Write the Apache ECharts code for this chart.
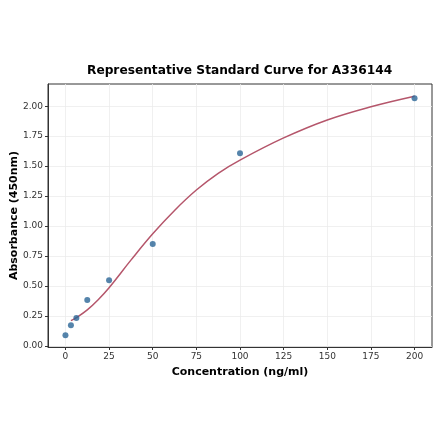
<!DOCTYPE html>
<html>
<head>
<meta charset="utf-8">
<script src="https://cdn.jsdelivr.net/npm/echarts@6/dist/echarts.min.js"></script>
<style>
html, body { margin: 0; padding: 0; background: #fff; }
#tu1 { width: 440px; height: 441px; }
</style>
</head>
<body>
<div id="tu1"></div>
<script>
// measured standards
var concX = [0, 3.125, 6.25, 12.5, 25, 50, 100, 200];
var absY = [0.089, 0.172, 0.232, 0.382, 0.548, 0.85, 1.607, 2.067];

// fitted curve
var fitX = [3.125, 6.25, 12.5, 18.75, 25, 37.5, 50, 62.5, 75, 87.5, 100, 125, 150, 175, 200];
var fitY = [0.21, 0.235, 0.30, 0.385, 0.485, 0.715, 0.935, 1.13, 1.30, 1.44, 1.55, 1.735, 1.885, 1.995, 2.083];

var xTicks = [0, 25, 50, 75, 100, 125, 150, 175, 200];
var yTicks = [0, 0.25, 0.5, 0.75, 1, 1.25, 1.5, 1.75, 2];

var myChart1 = echarts.init(document.getElementById('tu1'));

var font = 'DejaVu Sans';

var option1 = {
    animation: false,
    title: {
        text: 'Representative Standard Curve for A336144',
        left: 82,
        top: 60,
        textStyle: {
            fontFamily: font,
            fontSize: 12.2,
            fontWeight: 'bold',
            color: '#000'
        }
    },
    grid: {
        left: 48,
        right: 8,
        top: 84,
        bottom: 94,
        outerBoundsMode: 'none',
        containLabel: false,
        show: true,
        borderColor: '#333',
        borderWidth: 1
    },
    xAxis: {
        type: 'value',
        min: -10,
        max: 210,
        name: 'Concentration (ng/ml)',
        nameLocation: 'middle',
        nameGap: 20,
        nameMoveOverlap: false,
        nameTextStyle: {
            fontFamily: font,
            fontSize: 11,
            fontWeight: 'bold',
            color: '#000'
        },
        axisLine: { show: true, onZero: false, lineStyle: { color: '#333', width: 1 } },
        axisTick: { show: true, length: 3, customValues: xTicks, lineStyle: { color: '#333' } },
        axisLabel: {
            customValues: xTicks,
            fontFamily: font,
            fontSize: 9,
            color: '#333',
            margin: 5
        },
        splitLine: { show: true, lineStyle: { color: '#ececec', width: 0.8 } }
    },
    yAxis: {
        type: 'value',
        min: -0.01,
        max: 2.185,
        name: 'Absorbance (450nm)',
        nameLocation: 'middle',
        nameGap: 28,
        nameMoveOverlap: false,
        nameTextStyle: {
            fontFamily: font,
            fontSize: 11,
            fontWeight: 'bold',
            color: '#000'
        },
        axisLine: { show: true, onZero: false, lineStyle: { color: '#333', width: 1 } },
        axisTick: { show: true, length: 3, customValues: yTicks, lineStyle: { color: '#333' } },
        axisLabel: {
            customValues: yTicks,
            fontFamily: font,
            fontSize: 9,
            color: '#333',
            margin: 5,
            formatter: function (v) { return v.toFixed(2); }
        },
        splitLine: { show: true, lineStyle: { color: '#ececec', width: 0.8 } }
    },
    series: [{
        type: 'line',
        data: fitX.map(function (x, i) { return [x, fitY[i]]; }),
        smooth: 0.4,
        showSymbol: false,
        lineStyle: { color: '#b5566b', width: 1.5 },
        z: 2
    }, {
        type: 'scatter',
        data: concX.map(function (x, i) { return [x, absY[i]]; }),
        symbolSize: 6,
        itemStyle: { color: '#2a6596' },
        z: 3
    }]
};

myChart1.setOption(option1);
</script>
</body>
</html>
